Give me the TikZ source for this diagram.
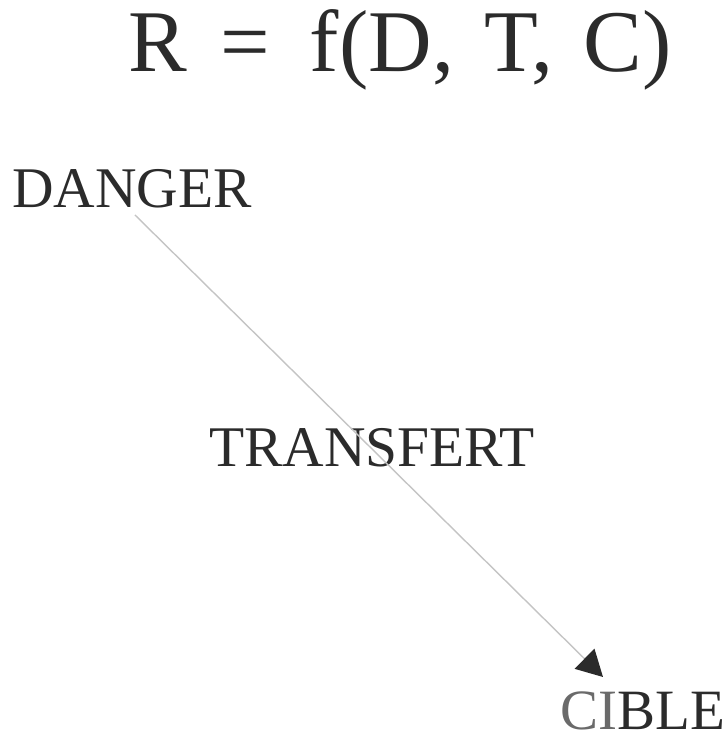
\documentclass[tikz,border=0pt]{standalone}
\usepackage{fontspec}
\newfontfamily\tnr{Liberation Serif}
\usetikzlibrary{arrows.meta}
\definecolor{ink}{HTML}{2B2B2B}
\definecolor{inklight}{HTML}{6A6A6A}
\definecolor{linegray}{HTML}{C4C4C4}
\tikzset{
  lbl/.style={inner sep=0pt, anchor=base west, text=ink, font=\tnr\fontsize{57.5}{60}\selectfont},
  ttl/.style={inner sep=0pt, anchor=base west, text=ink, font=\tnr\fontsize{88}{92}\selectfont},
  link/.style={draw=linegray, line width=1.4pt,
    -{Triangle[length=26pt, width=28pt, color=ink, fill=ink]}}
}
\begin{document}
\begin{tikzpicture}[x=1pt, y=1pt]
\useasboundingbox (0,0) rectangle (726,733);
\node[ttl] (title) at (128.5,661) {R\hspace{33pt}=\hspace{40pt}f(D,\hspace{30pt}T,\hspace{30pt}C)};
\node[lbl] (danger) at (12,525) {DANGER};
\node[lbl] (transfert) at (209,266) {TRANSFERT};
\node[lbl, font=\tnr\fontsize{57}{60}\selectfont] (cible) at (560,4) {{\color{inklight}CI}BLE};
\coordinate (tip) at (603,56);
\draw[link] ([xshift=3pt,yshift=-7pt]danger.base) -- (tip);
\end{tikzpicture}
\end{document}
